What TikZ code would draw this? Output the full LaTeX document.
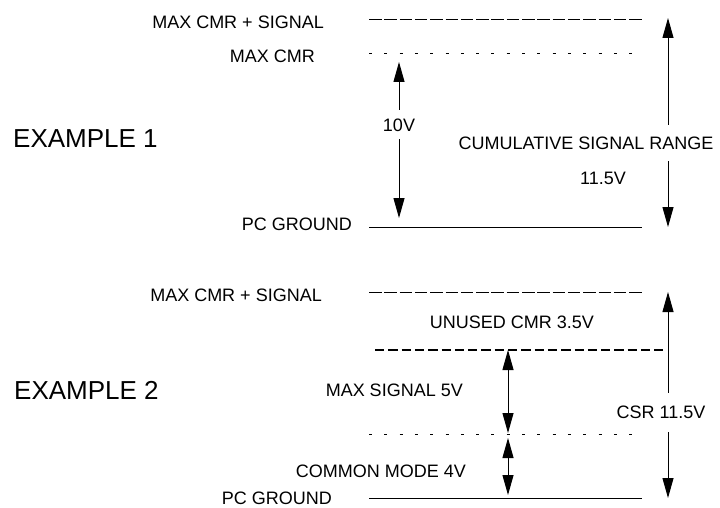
\documentclass[tikz,border=0pt]{standalone}
\usepackage{xcolor}
\usepackage{fontspec}
\setmainfont{Liberation Sans}
\usepackage{tikz}
\usetikzlibrary{positioning, arrows.meta}

\begin{document}
\begin{tikzpicture}[x=1pt, y=-1pt,
    lbl/.style={font=\fontsize{18}{20}\selectfont, inner sep=2pt,
                text height=13pt, text depth=0pt},
    gap/.style={lbl, fill=white, inner ysep=#1},
    big/.style={font=\fontsize{26}{28}\selectfont, inner sep=0pt,
                text height=19pt, text depth=0pt},
    level/.style={line width=1pt},
    longdash/.style={level, dash pattern=on 12.5pt off 2.8pt},
    shortdash/.style={level, dash pattern=on 3pt off 12.3pt},
    thickdash/.style={line width=2.4pt, dash pattern=on 9.3pt off 4pt},
    span/.style={line width=1pt,
                 {Triangle[length=20pt,width=11pt]}-{Triangle[length=20pt,width=11pt]}}]
  \useasboundingbox (0,0) rectangle (720,508);

  % example 1
  \coordinate (sigA) at (369,20);  \coordinate (sigB) at (642,20);
  \coordinate (cmrA) at (369,54);  \coordinate (cmrB) at (636,54);
  \coordinate (gndA) at (369,227); \coordinate (gndB) at (642,227);
  \coordinate (tenT) at (399,62);  \coordinate (tenB) at (399,218);
  \coordinate (csrT) at (668,18);  \coordinate (csrB) at (668,227);
  \draw[longdash] (sigA) -- (sigB);
  \draw[shortdash] (cmrA) -- (cmrB);
  \draw[level] (gndA) -- (gndB);
  \draw[span] (tenT) -- (tenB);
  \draw[span] (csrT) -- (csrB);
  \node[lbl, anchor=east] (sig1) at (326,22) {MAX CMR + SIGNAL};
  \node[lbl, anchor=east] (cmr1) at (317,56) {MAX CMR};
  \node[lbl, anchor=east] (gnd1) at (354,224) {PC GROUND};
  \node[big, anchor=west] (ex1) at (13,138) {EXAMPLE 1};
  \node[gap=8pt] (ten) at (399,125) {10V};
  \node[gap=11pt] (cum) at (586,143) {CUMULATIVE SIGNAL RANGE};
  \node[lbl] (cumv) at (603,178) {11.5V};

  % example 2
  \coordinate (sig2A) at (369,292); \coordinate (sig2B) at (642,292);
  \coordinate (maxA) at (375,350);  \coordinate (maxB) at (663,350);
  \coordinate (cm2A) at (369,434);  \coordinate (cm2B) at (636,434);
  \coordinate (gnd2A) at (369,498); \coordinate (gnd2B) at (642,498);
  \coordinate (msT) at (508,350);   \coordinate (msB) at (508,433);
  \coordinate (cmT) at (508,438);   \coordinate (cmB) at (508,495);
  \coordinate (csr2T) at (668,292); \coordinate (csr2B) at (668,498);
  \draw[longdash] (sig2A) -- (sig2B);
  \draw[thickdash] (maxA) -- (maxB);
  \draw[shortdash] (cm2A) -- (cm2B);
  \draw[level] (gnd2A) -- (gnd2B);
  \draw[span] (msT) -- (msB);
  \draw[span] (cmT) -- (cmB);
  \draw[span] (csr2T) -- (csr2B);
  \node[lbl, anchor=east] (sig2) at (324,295) {MAX CMR + SIGNAL};
  \node[lbl] (unused) at (512,322) {UNUSED CMR 3.5V};
  \node[lbl, anchor=east] (maxsig) at (465,390) {MAX SIGNAL 5V};
  \node[lbl, anchor=east] (common) at (468,471) {COMMON MODE 4V};
  \node[lbl, anchor=east] (gnd2) at (334,498) {PC GROUND};
  \node[big, anchor=west] (ex2) at (14,390) {EXAMPLE 2};
  \node[gap=13pt] (csr) at (661,412) {CSR 11.5V};
\end{tikzpicture}
\end{document}
